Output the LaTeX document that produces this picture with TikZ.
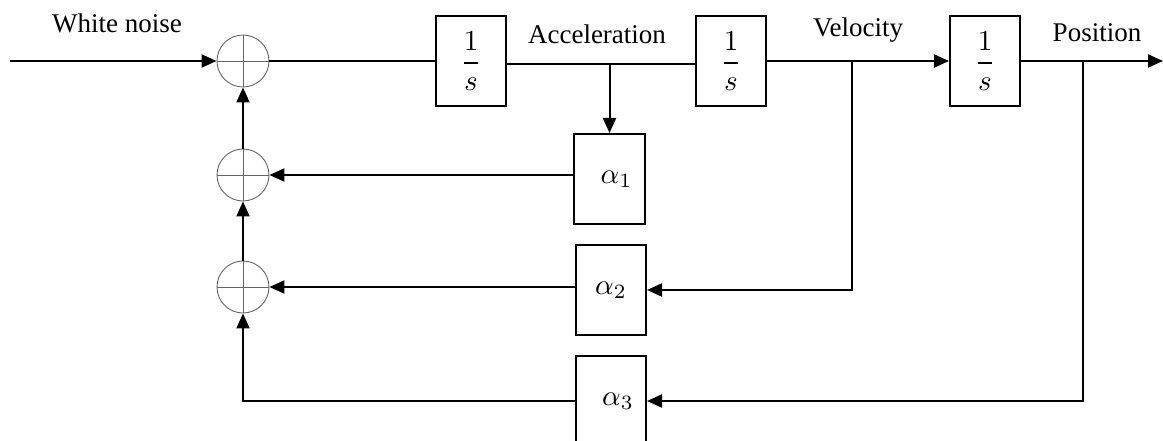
\documentclass[tikz,border=0pt]{standalone}
\usepackage{fontspec}
\setmainfont{Liberation Serif}
\usetikzlibrary{arrows.meta}
% math symbols drawn at normal size and enlarged
\newcommand{\bigmath}[1]{\scalebox{2.9}{\normalsize$#1$}}
\begin{document}
\begin{tikzpicture}[x=1pt,y=-1pt,
  every node/.style={font=\fontsize{27}{32}\selectfont},
  wire/.style={line width=2pt},
  flow/.style={wire,-{Triangle[length=15pt,width=13pt]}},
  block/.style={draw,line width=2pt,minimum width=70pt,minimum height=90pt,inner sep=0pt},
  sumjunc/.style={circle,draw=black!60,line width=0.9pt,minimum size=52pt,inner sep=0pt,
    path picture={\draw[black!60,line width=0.9pt]
      (path picture bounding box.north) -- (path picture bounding box.south)
      (path picture bounding box.west) -- (path picture bounding box.east);}},
  tag/.style={anchor=base}]
\useasboundingbox (0,0) rectangle (1163,441);
\clip (0,0) rectangle (1163,441);

% summing junctions
\node[sumjunc] (s1) at (243,61) {};
\node[sumjunc] (s2) at (243,175) {};
\node[sumjunc] (s3) at (243,287) {};

% integrators
\node[block] (i1) at (471,61) {\bigmath{\displaystyle\frac{1}{s}}};
\node[block] (i2) at (731,61) {\bigmath{\displaystyle\frac{1}{s}}};
\node[block] (i3) at (985,61) {\bigmath{\displaystyle\frac{1}{s}}};

% gains
\node[block,minimum width=71pt] (a1) at (609.5,179) {\hspace*{14pt}\bigmath{\alpha_1}};
\node[block] (a2) at (611,290) {\bigmath{\alpha_2}};
\node[block] (a3) at (611,401) {\hspace*{14pt}\bigmath{\alpha_3}};

% signal names
\node[tag] (lw) at (117,33) {White noise};
\node[tag] (la) at (597,44) {Acceleration};
\node[tag] (lv) at (858,37) {Velocity};
\node[tag] (lp) at (1097,42) {Position};

% branch points and free ends
\coordinate (in) at (10,61);
\coordinate (out) at (1163,61);
\coordinate (acc) at (609.5,64);
\coordinate (vel) at (852,61);
\coordinate (pos) at (1083,61);

% forward path
\draw[flow] (in) -- (s1.west);
\draw[wire] (s1.east) -- (i1.west);
\draw[wire] ([yshift=-3pt]i1.east) -- ([yshift=-3pt]i2.west);
\draw[flow] (i2.east) -- (i3.west);
\draw[flow] (i3.east) -- (out);

% feedback taps
\draw[flow] (acc) -- (a1.north);
\draw[flow] (vel) |- (a2.east);
\draw[flow] (pos) |- (a3.east);

% gains into the junctions
\draw[flow] (a1.west |- s2.east) -- (s2.east);
\draw[flow] (a2.west |- s3.east) -- (s3.east);
\draw[flow] (a3.west) -| (s3.south);
\draw[flow] (s3.north) -- (s2.south);
\draw[flow] (s2.north) -- (s1.south);
\end{tikzpicture}
\end{document}
